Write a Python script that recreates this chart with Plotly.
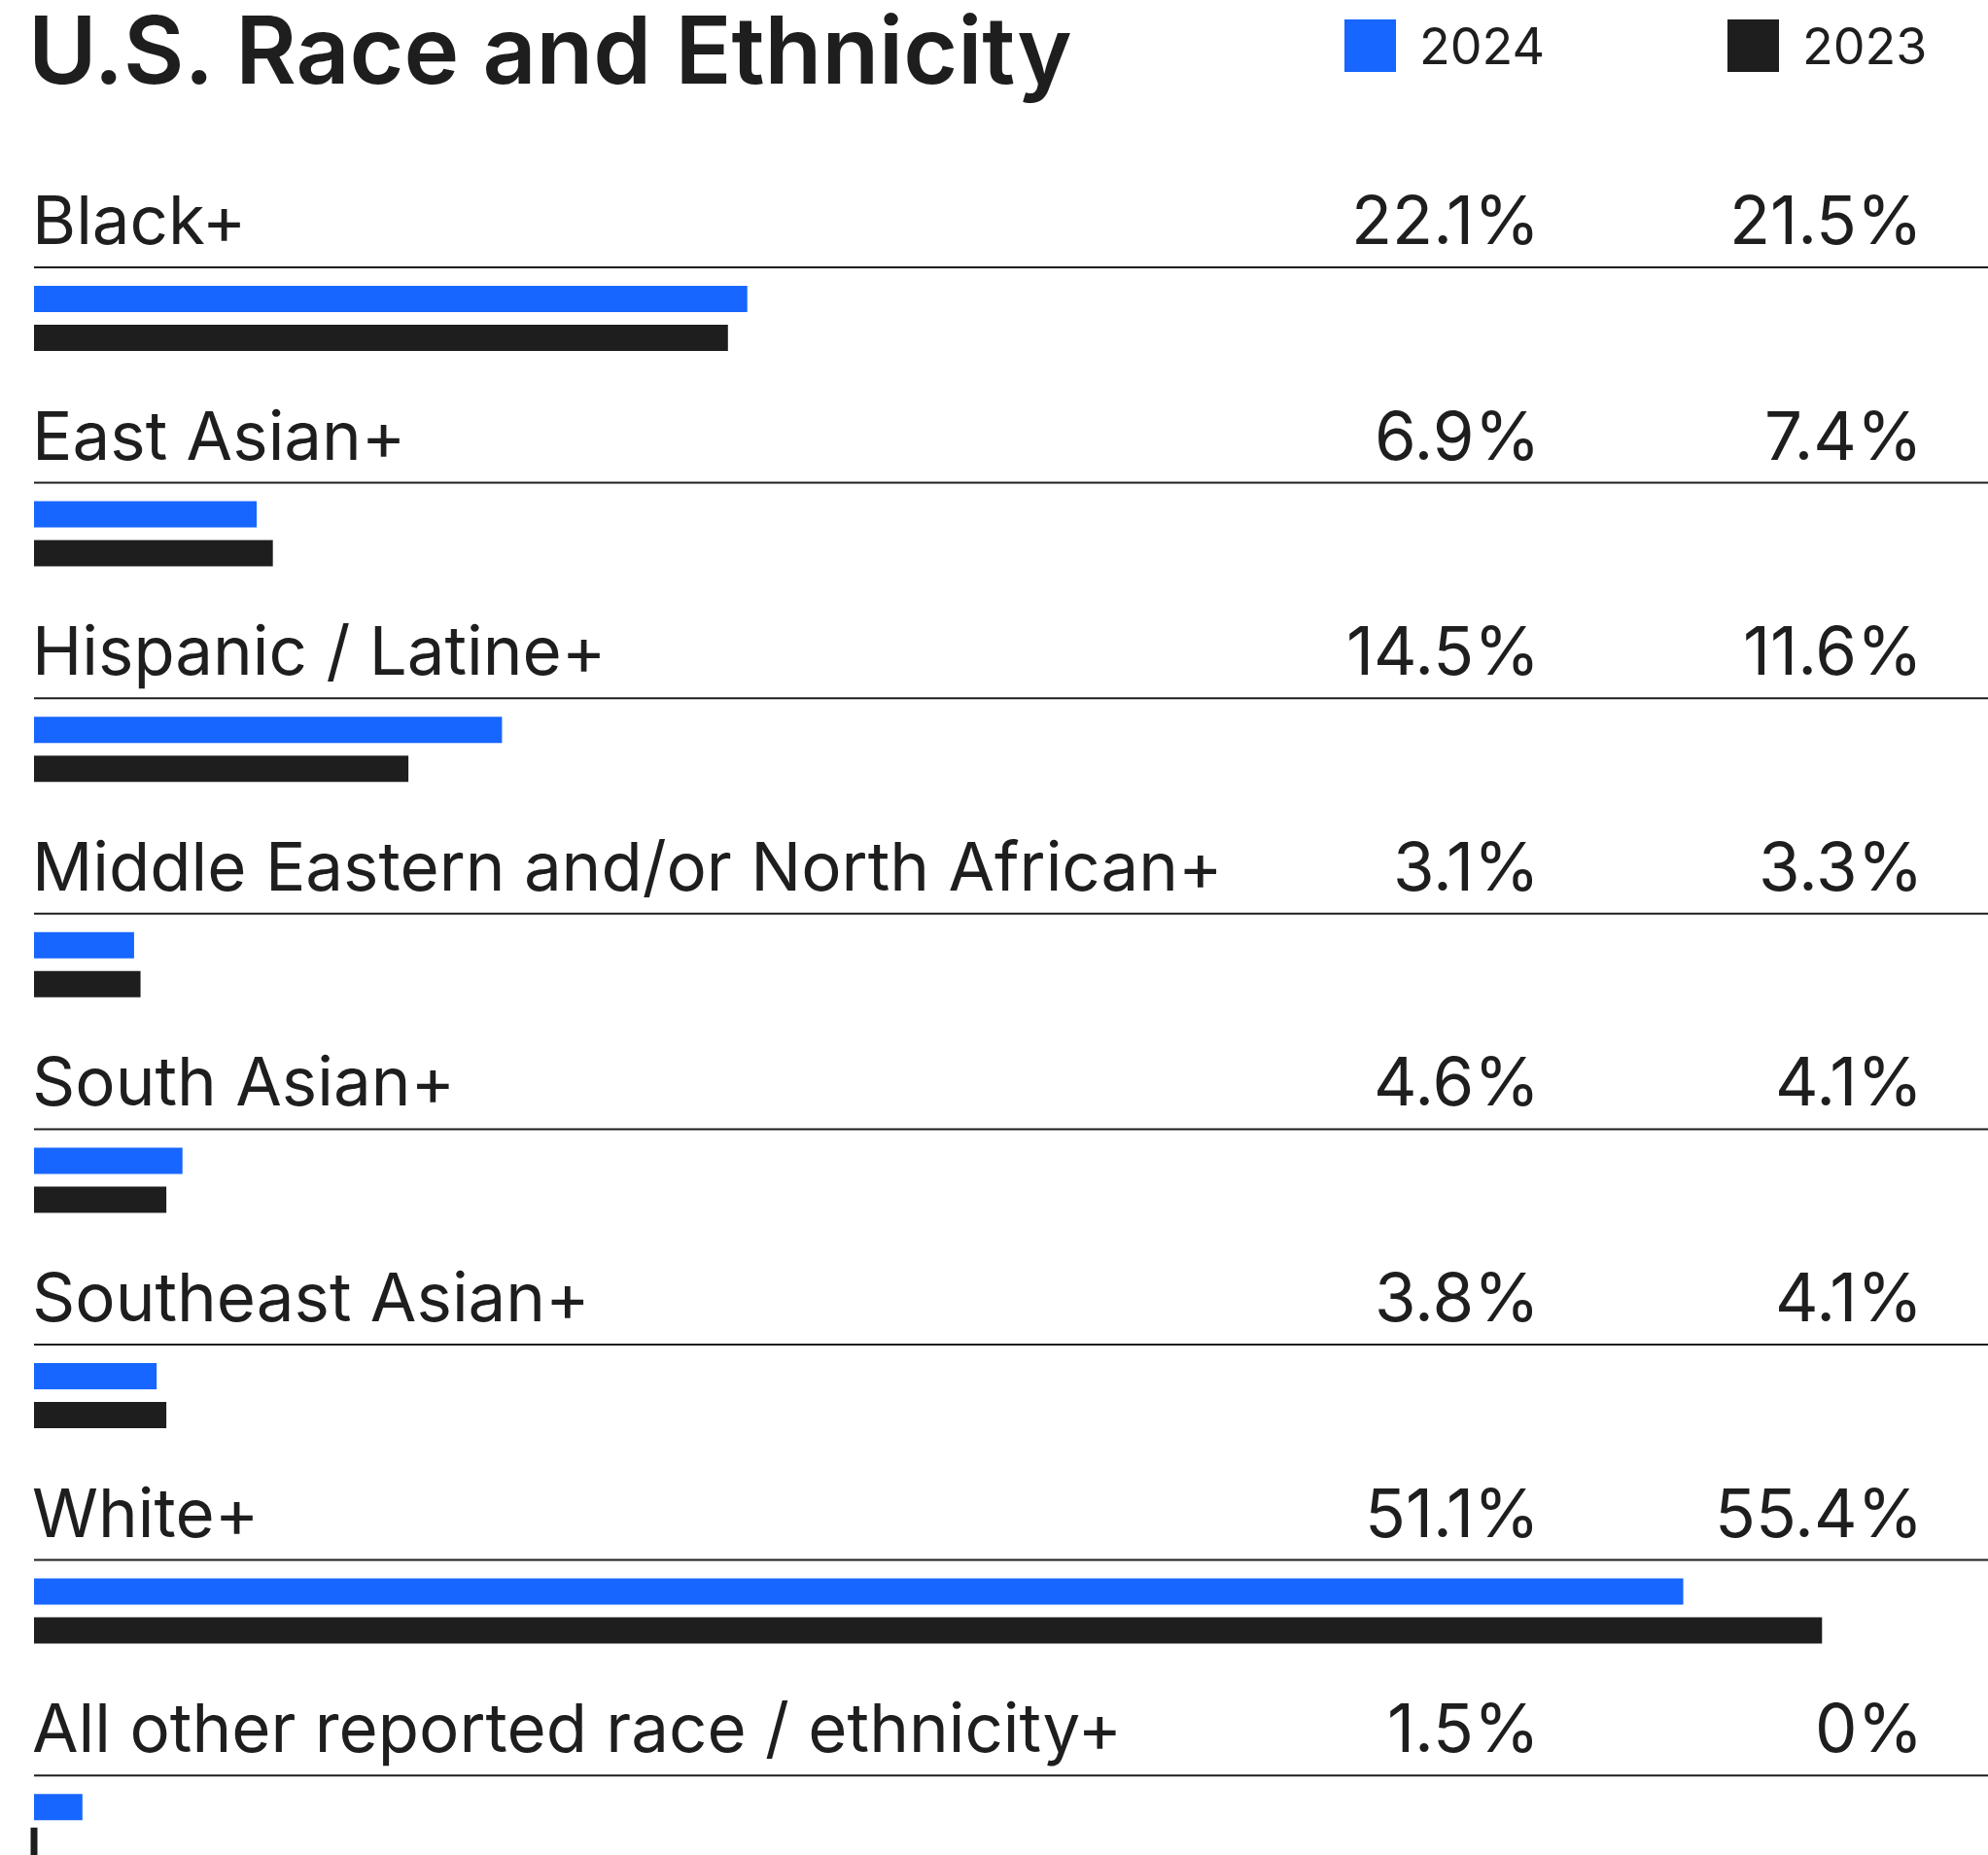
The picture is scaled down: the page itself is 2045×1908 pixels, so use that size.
import plotly.graph_objects as go

# ---- data ----
categories = [
    "Black+",
    "East Asian+",
    "Hispanic / Latine+",
    "Middle Eastern and/or North African+",
    "South Asian+",
    "Southeast Asian+",
    "White+",
    "All other reported race / ethnicity+",
]
values_2024 = [22.1, 6.9, 14.5, 3.1, 4.6, 3.8, 51.1, 1.5]
values_2023 = [21.5, 7.4, 11.6, 3.3, 4.1, 4.1, 55.4, 0]
series_names = ["2024", "2023"]
title_text = "U.S. Race and Ethnicity"

# ---- styling / layout constants ----
W, H = 2045, 1908
BLUE = "#1766FF"
DARK = "#1E1E1E"
FONT = "Inter"
ROW_PX = 221.6          # pixel pitch of one category row
LEFT_PX = 35
PX_PER_PCT = 33.2
LABEL_SIZE = 69
u = 1.0 / ROW_PX        # y-units per pixel


def px_x(px):
    """figure pixel -> paper x (paper spans the plot area)"""
    return (px - LEFT_PX) / (W - LEFT_PX)


idx = list(range(len(categories)))
bar_w = 27 * u

fig = go.Figure()
fig.add_trace(go.Bar(
    name=series_names[0], y=idx, x=values_2024, orientation="h",
    marker=dict(color=BLUE, line=dict(width=0)),
    width=bar_w, offset=-33.5 * u, hoverinfo="x+name",
))
fig.add_trace(go.Bar(
    name=series_names[1], y=idx, x=values_2023, orientation="h",
    marker=dict(color=DARK, line=dict(width=0)),
    width=bar_w, offset=6.5 * u, hoverinfo="x+name",
))
# zero-valued bars are shown as a short stub tick
zero_idx = [i for i, v in enumerate(values_2023) if v == 0]
fig.add_trace(go.Scatter(
    x=[values_2023[i] for i in zero_idx], y=[i + 20 * u for i in zero_idx],
    mode="markers", showlegend=False, hoverinfo="skip",
    marker=dict(symbol="line-ns-open", size=27, color=DARK,
                line=dict(color=DARK, width=7)),
    cliponaxis=False,
))

top_y = -327.5 * u
bottom_y = top_y + H * u

annotations = []
shapes = []
label_off = -101.5 * u
line_off = -52.5 * u
for i, (cat, v24, v23) in enumerate(zip(categories, values_2024, values_2023)):
    annotations.append(dict(
        text=cat, xref="paper", x=px_x(31), xanchor="left",
        yref="y", y=i + label_off, yanchor="middle", showarrow=False,
        font=dict(family=FONT, size=LABEL_SIZE, color=DARK),
    ))
    annotations.append(dict(
        text=f"{v24:g}%", xref="paper", x=px_x(1586), xanchor="right",
        yref="y", y=i + label_off, yanchor="middle", showarrow=False,
        font=dict(family=FONT, size=LABEL_SIZE, color=DARK),
    ))
    annotations.append(dict(
        text=f"{v23:g}%", xref="paper", x=px_x(1980), xanchor="right",
        yref="y", y=i + label_off, yanchor="middle", showarrow=False,
        font=dict(family=FONT, size=LABEL_SIZE, color=DARK),
    ))
    shapes.append(dict(
        type="line", xref="paper", x0=0, x1=1,
        yref="y", y0=i + line_off, y1=i + line_off,
        line=dict(color=DARK, width=2), layer="above",
    ))

# title
annotations.append(dict(
    text=title_text, xref="paper", x=px_x(27), xanchor="left",
    yref="paper", y=1 - 51 / H, yanchor="middle", showarrow=False,
    font=dict(family=FONT, size=96, color=DARK, weight=600),
))
# legend (drawn manually for large swatches)
legend_items = [(series_names[0], BLUE, 1383), (series_names[1], DARK, 1777)]
for name, col, x0 in legend_items:
    shapes.append(dict(
        type="rect", xref="paper", yref="paper",
        x0=px_x(x0), x1=px_x(x0 + 53), y0=1 - 74 / H, y1=1 - 20 / H,
        fillcolor=col, line=dict(width=0),
    ))
    annotations.append(dict(
        text=name, xref="paper", x=px_x(x0 + 75), xanchor="left",
        yref="paper", y=1 - 47 / H, yanchor="middle", showarrow=False,
        font=dict(family=FONT, size=52, color=DARK),
    ))

fig.update_layout(
    width=W, height=H,
    margin=dict(l=LEFT_PX, r=0, t=0, b=0, pad=0),
    paper_bgcolor="white", plot_bgcolor="white",
    barmode="overlay", showlegend=False,
    xaxis=dict(range=[0, (W - LEFT_PX) / PX_PER_PCT], visible=False, fixedrange=True),
    yaxis=dict(range=[bottom_y, top_y], visible=False, fixedrange=True),
    annotations=annotations, shapes=shapes,
    font=dict(family=FONT, color=DARK),
)

fig.write_html(
    "out.html",
    config={"displayModeBar": False},
    post_script="document.body.style.margin='0';document.body.style.overflow='hidden';",
)
